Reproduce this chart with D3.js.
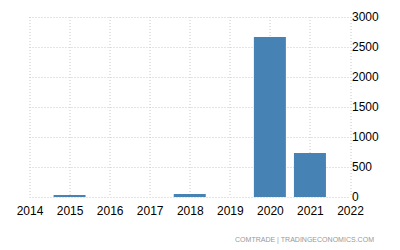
<!DOCTYPE html>
<html>
<head>
<meta charset="utf-8">
<script src="https://cdn.jsdelivr.net/npm/d3@7"></script>
<style>
  body { margin: 0; background: #fff; }
  svg { display: block; font-family: "Liberation Sans", Arial, sans-serif; }
</style>
</head>
<body>
<svg id="chart" width="400" height="250"></svg>
<script>
// yearly values
const years = [2015, 2016, 2017, 2018, 2019, 2020, 2021];
const values = [33, 0, 0, 50, 0, 2667, 733];
const xTicks = [2014, 2015, 2016, 2017, 2018, 2019, 2020, 2021, 2022];
const yTicks = [0, 500, 1000, 1500, 2000, 2500, 3000];

const svg = d3.select("#chart");
const margin = { top: 17, right: 50, bottom: 53, left: 29.5 };
const width = 400 - margin.left - margin.right;
const height = 250 - margin.top - margin.bottom;

const g = svg.append("g")
    .attr("transform", "translate(" + margin.left + "," + margin.top + ")");

const x = d3.scaleLinear().domain([2014, 2022]).range([0, width]);
const y = d3.scaleLinear().domain([0, 3000]).range([height, 0]);

// grid lines, dotted
g.selectAll(".vgrid")
    .data(xTicks)
    .enter()
    .append("line")
    .attr("x1", d => Math.round(x(d)) + 0.5)
    .attr("x2", d => Math.round(x(d)) + 0.5)
    .attr("y1", 0)
    .attr("y2", height)
    .style("stroke", "#c8c8c8")
    .style("stroke-dasharray", "1,2");

g.selectAll(".hgrid")
    .data(yTicks)
    .enter()
    .append("line")
    .attr("x1", 0)
    .attr("x2", width)
    .attr("y1", d => Math.round(y(d)) + 0.5)
    .attr("y2", d => Math.round(y(d)) + 0.5)
    .style("stroke", "#c8c8c8")
    .style("stroke-dasharray", "1,2");

// bars
const barW = 32;
g.selectAll(".bar")
    .data(years.map((yr, i) => ({ yr: yr, v: values[i] })))
    .enter()
    .append("rect")
    .attr("x", d => x(d.yr) - barW / 2)
    .attr("width", barW)
    .attr("y", d => y(d.v))
    .attr("height", d => height - y(d.v))
    .style("fill", "#4682b4");

// y axis on the right
const yAxis = g.append("g")
    .attr("transform", "translate(" + width + ",0)")
    .call(d3.axisRight(y).tickValues(yTicks).tickSize(0).tickPadding(2).tickFormat(d3.format("d")));
yAxis.select(".domain").remove();
yAxis.selectAll("text")
    .style("font-size", "12px")
    .style("fill", "#000")
    .style("font-family", "Liberation Sans, Arial, sans-serif");

// x axis
const xAxis = g.append("g")
    .attr("transform", "translate(0," + height + ")")
    .call(d3.axisBottom(x).tickValues(xTicks).tickSize(0).tickPadding(9).tickFormat(d3.format("d")));
xAxis.select(".domain").remove();
xAxis.selectAll("text")
    .style("font-size", "12px")
    .style("fill", "#000")
    .style("font-family", "Liberation Sans, Arial, sans-serif");

// source
svg.append("text")
    .attr("x", 374)
    .attr("y", 242)
    .attr("text-anchor", "end")
    .attr("textLength", 139)
    .attr("lengthAdjust", "spacingAndGlyphs")
    .style("font-size", "8px")
    .style("fill", "#999")
    .text("COMTRADE | TRADINGECONOMICS.COM");
</script>
</body>
</html>
